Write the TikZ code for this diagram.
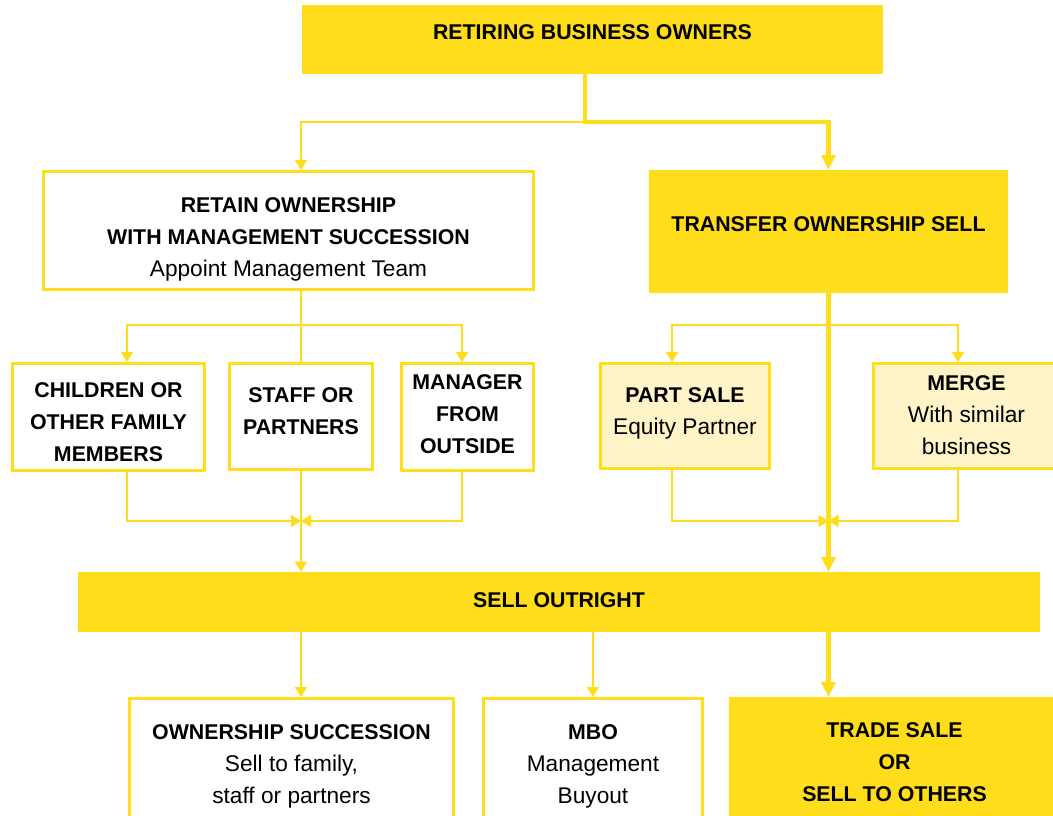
\documentclass[tikz,border=0pt]{standalone}
\usepackage{fontspec}
\setmainfont{Liberation Sans}
\usetikzlibrary{arrows.meta}
\definecolor{gold}{HTML}{FFDD1A}
\definecolor{cream}{HTML}{FFF3C8}
\newcommand{\lighttext}[1]{{\mdseries\fontsize{17}{24}\selectfont #1}}
\newcommand{\lift}[2]{\raisebox{#1}[\height][\depth]{\begin{tabular}{@{}c@{}}#2\end{tabular}}}
\tikzset{
  boxsize/.style 2 args={minimum width=#1*0.75pt, minimum height=#2*0.75pt},
  card/.style={rectangle, inner sep=0pt, font=\bfseries\fontsize{16}{24}\selectfont},
  solid card/.style={card, fill=gold},
  open card/.style={card, draw=gold, line width=2.25pt, fill=white},
  soft card/.style={card, draw=gold, line width=2.25pt, fill=cream},
  branch/.style={draw=gold, line width=1.5pt, >={Triangle[length=7.5pt,width=9pt]}},
  trunk/.style={draw=gold, line width=3.2pt, >={Triangle[length=11pt,width=10.5pt]}}
}
\begin{document}
\begin{tikzpicture}[x=0.75pt, y=-0.75pt]
      \useasboundingbox (0,0) rectangle (1053,816);
      \draw
        (592.5,39.5) node[solid card, boxsize={581}{69}] (owners){\lift{4.5pt}{RETIRING BUSINESS OWNERS}}
        (288.5,230.5) node[open card, boxsize={490}{118}] (retain){\lift{-6pt}{RETAIN OWNERSHIP\\WITH MANAGEMENT SUCCESSION\\\lighttext{Appoint Management Team}}}
        (828.5,231.5) node[solid card, boxsize={359}{123}] (transfer){\lift{4.5pt}{TRANSFER OWNERSHIP SELL}}
        (108.5,417) node[open card, boxsize={192}{107}] (children){\lift{-4.5pt}{CHILDREN OR\\OTHER FAMILY\\MEMBERS}}
        (301,416.5) node[open card, boxsize={143}{106}] (staff){\lift{3pt}{STAFF OR\\PARTNERS}}
        (467.5,417) node[open card, boxsize={132}{107}] (manager){\lift{1.5pt}{MANAGER\\FROM\\OUTSIDE}}
        (685,416) node[soft card, boxsize={169}{105}] (part){\lift{3pt}{PART SALE\\\lighttext{Equity Partner}}}
        (966.5,416) node[soft card, boxsize={187}{105}] (merge){\lift{0pt}{MERGE\\\lighttext{With similar}\\\lighttext{business}}}
        (559,602) node[solid card, boxsize={962}{60}] (sell){\lift{0.5pt}{SELL OUTRIGHT}}
        (291.5,765) node[open card, boxsize={324}{133}] (ownsucc){\lift{0pt}{OWNERSHIP SUCCESSION\\\lighttext{Sell to family,}\\\lighttext{staff or partners}}}
        (593,765) node[open card, boxsize={219}{133}] (mbo){\lift{0pt}{MBO\\\lighttext{Management}\\\lighttext{Buyout}}}
        (894.5,764.5) node[solid card, boxsize={331}{135}] (trade){\lift{1pt}{TRADE SALE\\OR\\SELL TO OTHERS}};
      \coordinate (split) at (585,122);
      \coordinate (kidtap) at (127,325);
      \coordinate (outtap) at (462,325);
      \coordinate (parttap) at (672,325);
      \coordinate (mergetap) at (958,325);
      \coordinate (kinjoin) at (301,521);
      \coordinate (salejoin) at (828.5,521);
      \begin{scope}[branch]
        \draw[->] (split) -| (retain.north -| staff);
        \draw[<->] (kidtap |- children.north) -- (kidtap) -- (outtap) -- (outtap |- manager.north);
        \draw (retain.south -| staff) -- (staff.north);
        \draw[<->] (parttap |- part.north) -- (parttap) -- (mergetap) -- (mergetap |- merge.north);
        \draw[->] (children.south -| kidtap) |- (kinjoin);
        \draw[->] (manager.south -| outtap) |- (kinjoin);
        \draw[->] (staff) -- (staff |- sell.north);
        \draw[->] (part.south -| parttap) |- (salejoin);
        \draw[->] (merge.south -| mergetap) |- (salejoin);
        \draw[->] (sell.south -| staff) -- (ownsucc.north -| staff);
        \draw[->] (sell.south -| mbo) -- (mbo.north);
      \end{scope}
      \begin{scope}[trunk]
        \draw[->] (owners.south -| split) -- (split) -| (transfer.north);
        \draw[->] (transfer) -- (transfer |- sell.north);
        \draw[->] (sell.south -| transfer) -- (trade.north -| transfer);
      \end{scope}
    \end{tikzpicture}
\end{document}
